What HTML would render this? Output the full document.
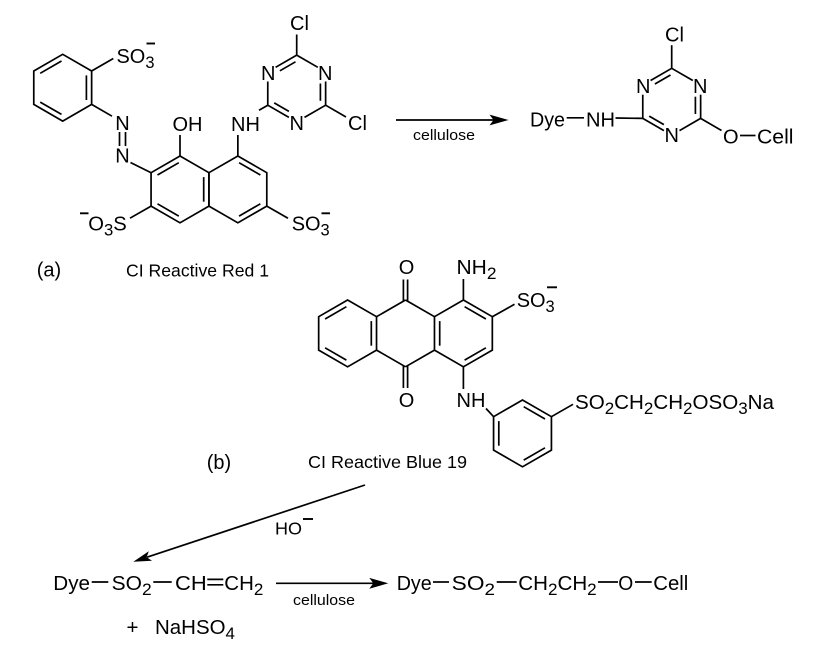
<!DOCTYPE html>
<html><head><meta charset="utf-8"><style>
html,body{margin:0;padding:0;background:#fff;}
svg{display:block;}
text{font-family:"Liberation Sans",Arial,sans-serif;fill:#000;stroke:none;}
.m{font-size:20px;}
.c{font-size:17.5px;}
.s{font-size:14.5px;}
.b{font-size:20.5px;}
</style></head><body>
<svg width="815" height="654" viewBox="0 0 815 654" xmlns="http://www.w3.org/2000/svg">
<g stroke="#000" stroke-width="1.7" fill="none">
  <!-- (a) benzene -->
  <g transform="translate(62.7,87.7)">
    <polygon points="0,-33.4 28.93,-16.7 28.93,16.7 0,33.4 -28.93,16.7 -28.93,-16.7"/>
    <line x1="-22.5" y1="-14.4" x2="-1.2" y2="-26.7"/>
    <line x1="23.7" y1="-12.3" x2="23.7" y2="12.3"/>
    <line x1="-1.2" y1="26.7" x2="-22.5" y2="14.4"/>
  </g>
  <line x1="91.6" y1="71" x2="113.3" y2="58.5"/>
  <line x1="91.6" y1="104.4" x2="112" y2="116.2"/>
  <line x1="119.5" y1="132" x2="119.5" y2="146"/>
  <line x1="125.5" y1="132" x2="125.5" y2="146"/>
  <line x1="130.5" y1="162.5" x2="151.1" y2="172.7"/>
  <!-- naphthalene -->
  <g transform="translate(180,189.4)">
    <polygon points="0,-33.4 28.93,-16.7 28.93,16.7 0,33.4 -28.93,16.7 -28.93,-16.7"/>
    <line x1="-22.5" y1="-14.4" x2="-1.2" y2="-26.7"/>
    <line x1="23.7" y1="-12.3" x2="23.7" y2="12.3"/>
    <line x1="-1.2" y1="26.7" x2="-22.5" y2="14.4"/>
  </g>
  <g transform="translate(237.86,189.4)">
    <polygon points="0,-33.4 28.93,-16.7 28.93,16.7 0,33.4 -28.93,16.7 -28.93,-16.7"/>
    <line x1="1.2" y1="-26.7" x2="22.5" y2="-14.4"/>
    <line x1="22.5" y1="14.4" x2="1.2" y2="26.7"/>
  </g>
  <line x1="180" y1="156" x2="180" y2="135"/>
  <line x1="237.86" y1="156" x2="237.86" y2="135"/>
  <line x1="151.1" y1="206.1" x2="130" y2="218.2"/>
  <line x1="266.8" y1="206.1" x2="288" y2="218.2"/>
  <line x1="259" y1="110.2" x2="267.8" y2="105.2"/>
  <!-- triazine 1 -->
  <g transform="translate(296.7,88.5)">
    <line x1="0" y1="-33.4" x2="-21.1" y2="-21.2"/>
    <line x1="0" y1="-33.4" x2="21.1" y2="-21.2"/>
    <line x1="28.93" y1="-7" x2="28.93" y2="16.7"/>
    <line x1="28.93" y1="16.7" x2="7.8" y2="28.9"/>
    <line x1="-7.8" y1="28.9" x2="-28.93" y2="16.7"/>
    <line x1="-28.93" y1="16.7" x2="-28.93" y2="-7"/>
    <line x1="-1.2" y1="-26.7" x2="-16.8" y2="-17.7"/>
    <line x1="23.7" y1="-5" x2="23.7" y2="12.3"/>
    <line x1="-22.5" y1="14.4" x2="-7.8" y2="22.9"/>
    <line x1="0" y1="-33.4" x2="0" y2="-54"/>
    <line x1="28.93" y1="16.7" x2="49.3" y2="28.5"/>
  </g>
  <!-- arrow a -->
  <line x1="396" y1="120" x2="494" y2="120"/>
  <!-- product triazine -->
  <line x1="566.7" y1="117.8" x2="584" y2="117.8"/>
  <line x1="615.5" y1="118" x2="642.8" y2="118.4"/>
  <g transform="translate(671.7,101.7)">
    <line x1="0" y1="-33.4" x2="-21.1" y2="-21.2"/>
    <line x1="0" y1="-33.4" x2="21.1" y2="-21.2"/>
    <line x1="28.93" y1="-7" x2="28.93" y2="16.7"/>
    <line x1="28.93" y1="16.7" x2="7.8" y2="28.9"/>
    <line x1="-7.8" y1="28.9" x2="-28.93" y2="16.7"/>
    <line x1="-28.93" y1="16.7" x2="-28.93" y2="-7"/>
    <line x1="-1.2" y1="-26.7" x2="-16.8" y2="-17.7"/>
    <line x1="23.7" y1="-5" x2="23.7" y2="12.3"/>
    <line x1="-22.5" y1="14.4" x2="-7.8" y2="22.9"/>
    <line x1="0" y1="-33.4" x2="0" y2="-56.5"/>
    <line x1="28.93" y1="16.7" x2="49.8" y2="28.8"/>
  </g>
  <line x1="740" y1="135.5" x2="755.5" y2="135.5"/>
  <!-- (b) anthraquinone -->
  <g transform="translate(347.6,333.4)">
    <polygon points="0,-33.4 28.93,-16.7 28.93,16.7 0,33.4 -28.93,16.7 -28.93,-16.7"/>
    <line x1="-22.5" y1="-14.4" x2="-1.2" y2="-26.7"/>
    <line x1="23.7" y1="-12.3" x2="23.7" y2="12.3"/>
    <line x1="-1.2" y1="26.7" x2="-22.5" y2="14.4"/>
  </g>
  <g transform="translate(463.4,333.4)">
    <polygon points="0,-33.4 28.93,-16.7 28.93,16.7 0,33.4 -28.93,16.7 -28.93,-16.7"/>
    <line x1="-23.7" y1="-12.3" x2="-23.7" y2="12.3"/>
    <line x1="1.2" y1="-26.7" x2="22.5" y2="-14.4"/>
    <line x1="22.5" y1="14.4" x2="1.2" y2="26.7"/>
  </g>
  <line x1="405.5" y1="300" x2="376.53" y2="316.7"/>
  <line x1="405.5" y1="300" x2="434.47" y2="316.7"/>
  <line x1="405.5" y1="366.8" x2="376.53" y2="350.1"/>
  <line x1="405.5" y1="366.8" x2="434.47" y2="350.1"/>
  <line x1="403.4" y1="301" x2="403.4" y2="279.5"/>
  <line x1="407.6" y1="301" x2="407.6" y2="279.5"/>
  <line x1="403.4" y1="366" x2="403.4" y2="388"/>
  <line x1="407.6" y1="366" x2="407.6" y2="388"/>
  <line x1="463.4" y1="300" x2="463.4" y2="279"/>
  <line x1="492.3" y1="316.7" x2="514.5" y2="304.3"/>
  <line x1="463.4" y1="366.8" x2="463.4" y2="389"/>
  <!-- aniline ring -->
  <g transform="translate(522.5,433.4)">
    <polygon points="0,-33.4 28.93,-16.7 28.93,16.7 0,33.4 -28.93,16.7 -28.93,-16.7"/>
    <line x1="-23.7" y1="-12.3" x2="-23.7" y2="12.3"/>
    <line x1="1.2" y1="-26.7" x2="22.5" y2="-14.4"/>
    <line x1="22.5" y1="14.4" x2="1.2" y2="26.7"/>
  </g>
  <line x1="486" y1="408.5" x2="493.6" y2="416.7"/>
  <line x1="551.4" y1="416.7" x2="573" y2="404.3"/>
  <!-- diagonal arrow -->
  <line x1="365" y1="485" x2="147" y2="557.2"/>
  <!-- bottom formula bonds -->
  <line x1="91.7" y1="582" x2="108.3" y2="582"/>
  <line x1="153.3" y1="582" x2="171.7" y2="582"/>
  <line x1="207.3" y1="579.4" x2="223.3" y2="579.4"/>
  <line x1="207.3" y1="584.8" x2="223.3" y2="584.8"/>
  <line x1="276" y1="583.3" x2="374" y2="583.3"/>
  <line x1="433" y1="582" x2="449" y2="582"/>
  <line x1="496.7" y1="582" x2="516.7" y2="582"/>
  <line x1="598" y1="582" x2="618" y2="582"/>
  <line x1="635" y1="582" x2="651.7" y2="582"/>
</g>
<!-- minus signs -->
<g stroke="#000" stroke-width="1.9">
  <line x1="146.5" y1="43.5" x2="155" y2="43.5"/>
  <line x1="80" y1="213.3" x2="88.5" y2="213.3"/>
  <line x1="321.5" y1="213.3" x2="330" y2="213.3"/>
  <line x1="547" y1="287.3" x2="557" y2="287.3"/>
  <line x1="303" y1="519" x2="313" y2="519"/>
</g>
<!-- arrowheads -->
<g fill="#000" stroke="none">
  <polygon points="508.5,120 489.5,114.6 493.5,120 489.5,125.4"/>
  <polygon points="388.3,583.3 369.3,577.9 373.3,583.3 369.3,588.7"/>
  <polygon points="133.3,561.7 152,560.8 146.6,557.3 148.8,551.3"/>
</g>

<!-- TEXT part (a) -->
<text class="m" x="116.5" y="63" textLength="38" lengthAdjust="spacingAndGlyphs">SO<tspan dy="5" font-size="16.5">3</tspan></text>
<text class="m" x="122.5" y="130" text-anchor="middle">N</text>
<text class="m" x="122.5" y="162.7" text-anchor="middle">N</text>
<text class="m" x="172.5" y="131">OH</text>
<text class="m" x="231" y="131">NH</text>
<text class="m" x="88.3" y="230.5" textLength="38.5" lengthAdjust="spacingAndGlyphs">O<tspan dy="5" font-size="16.5">3</tspan><tspan dy="-5">S</tspan></text>
<text class="m" x="291.7" y="230.5" textLength="38" lengthAdjust="spacingAndGlyphs">SO<tspan dy="5" font-size="16.5">3</tspan></text>
<g transform="translate(296.7,88.5)">
  <text class="m" x="-28.5" y="-8.5" text-anchor="middle">N</text>
  <text class="m" x="28.5" y="-8.5" text-anchor="middle">N</text>
  <text class="m" x="0" y="41.5" text-anchor="middle">N</text>
</g>
<text class="m" x="290" y="30">Cl</text>
<text class="m" x="348" y="130">Cl</text>
<text class="m" x="36.7" y="276.5">(a)</text>
<text class="c" x="126" y="276.7" textLength="143" lengthAdjust="spacingAndGlyphs">CI Reactive Red 1</text>
<text class="s" x="413" y="140" textLength="62" lengthAdjust="spacingAndGlyphs">cellulose</text>
<text class="m" x="530" y="126.7" textLength="35" lengthAdjust="spacingAndGlyphs">Dye</text>
<text class="m" x="586" y="126.7" textLength="29" lengthAdjust="spacingAndGlyphs">NH</text>
<g transform="translate(671.7,101.7)">
  <text class="m" x="-28.5" y="-8.5" text-anchor="middle">N</text>
  <text class="m" x="28.5" y="-8.5" text-anchor="middle">N</text>
  <text class="m" x="0" y="40.5" text-anchor="middle">N</text>
</g>
<text class="m" x="665" y="41.7">Cl</text>
<text class="m" x="723" y="143.5">O</text>
<text class="m" x="757" y="143.5" textLength="36.5" lengthAdjust="spacingAndGlyphs">Cell</text>

<!-- TEXT part (b) -->
<text class="m" x="406.5" y="274" text-anchor="middle">O</text>
<text class="m" x="406.5" y="407" text-anchor="middle">O</text>
<text class="m" x="456.5" y="274" textLength="40" lengthAdjust="spacingAndGlyphs">NH<tspan dy="5" font-size="16.5">2</tspan></text>
<text class="m" x="516.7" y="307" textLength="38" lengthAdjust="spacingAndGlyphs">SO<tspan dy="5" font-size="16.5">3</tspan></text>
<text class="m" x="456.5" y="407">NH</text>
<text class="m" x="575" y="409" textLength="199" lengthAdjust="spacingAndGlyphs">SO<tspan dy="5" font-size="16.5">2</tspan><tspan dy="-5">CH</tspan><tspan dy="5" font-size="16.5">2</tspan><tspan dy="-5">CH</tspan><tspan dy="5" font-size="16.5">2</tspan><tspan dy="-5">OSO</tspan><tspan dy="5" font-size="16.5">3</tspan><tspan dy="-5">Na</tspan></text>
<text class="m" x="206.7" y="469">(b)</text>
<text class="c" x="308" y="468" textLength="159" lengthAdjust="spacingAndGlyphs">CI Reactive Blue 19</text>
<text class="c" x="275" y="534.5" textLength="27" lengthAdjust="spacingAndGlyphs">HO</text>

<!-- bottom formulas -->
<text class="b" x="53.3" y="590" textLength="36.7" lengthAdjust="spacingAndGlyphs">Dye</text>
<text class="b" x="111.7" y="590" textLength="40" lengthAdjust="spacingAndGlyphs">SO<tspan dy="5" font-size="17">2</tspan></text>
<text class="b" x="175" y="590" textLength="31.7" lengthAdjust="spacingAndGlyphs">CH</text>
<text class="b" x="224.3" y="590" textLength="39" lengthAdjust="spacingAndGlyphs">CH<tspan dy="5" font-size="17">2</tspan></text>
<text class="s" x="293" y="605" textLength="62" lengthAdjust="spacingAndGlyphs">cellulose</text>
<text class="b" x="396.7" y="590" textLength="35" lengthAdjust="spacingAndGlyphs">Dye</text>
<text class="b" x="451.7" y="590" textLength="43.3" lengthAdjust="spacingAndGlyphs">SO<tspan dy="5" font-size="17">2</tspan></text>
<text class="b" x="518.3" y="590" textLength="78.4" lengthAdjust="spacingAndGlyphs">CH<tspan dy="5" font-size="17">2</tspan><tspan dy="-5">CH</tspan><tspan dy="5" font-size="17">2</tspan></text>
<text class="b" x="618.3" y="590" textLength="15" lengthAdjust="spacingAndGlyphs">O</text>
<text class="b" x="653.3" y="590" textLength="35" lengthAdjust="spacingAndGlyphs">Cell</text>
<text class="b" x="132.5" y="634" text-anchor="middle">+</text>
<text class="b" x="155" y="634" textLength="80" lengthAdjust="spacingAndGlyphs">NaHSO<tspan dy="5" font-size="17">4</tspan></text>
</svg>
</body></html>
